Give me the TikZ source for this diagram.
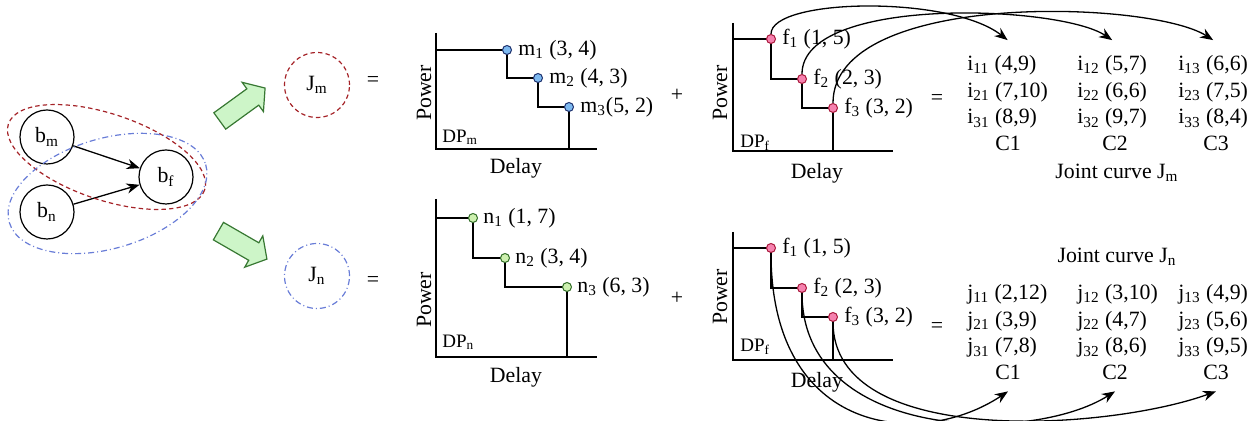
\documentclass[tikz,border=0pt]{standalone}
\usepackage{fontspec}
\setmainfont{Liberation Serif}
\usepackage{xcolor}
\usetikzlibrary{arrows.meta,positioning,shapes.arrows}
\definecolor{jmred}{RGB}{165,35,40}
\definecolor{jnblue}{RGB}{105,125,215}
\definecolor{fatfill}{RGB}{205,245,200}
\definecolor{fatline}{RGB}{55,120,50}
\definecolor{mfill}{RGB}{125,185,240}
\definecolor{mline}{RGB}{30,50,110}
\definecolor{nfill}{RGB}{205,240,175}
\definecolor{nline}{RGB}{50,110,40}
\definecolor{ffill}{RGB}{245,130,175}
\definecolor{fline}{RGB}{170,25,60}

\begin{document}
\begin{tikzpicture}[
  x=0.5pt, y=-0.5pt,
  font=\fontsize{10.9}{13}\selectfont,
  bnode/.style={draw, circle, minimum size=27pt, inner sep=0pt, line width=0.6pt},
  jnode/.style={circle, minimum size=32.5pt, inner sep=0pt, line width=0.6pt},
  redline/.style={draw=jmred, line width=0.6pt, dash pattern=on 2.2pt off 1.6pt},
  blueline/.style={draw=jnblue, line width=0.6pt,
                   dash pattern=on 3pt off 1.5pt on 0.5pt off 1.5pt},
  fat/.style={single arrow, draw=fatline, fill=fatfill, line width=0.6pt,
              minimum height=28pt, inner xsep=0pt, inner ysep=4.75pt,
              single arrow head extend=4pt, single arrow tip angle=100},
  ax/.style={line width=0.55pt},
  dot/.style={circle, minimum size=4.5pt, inner sep=0pt, line width=0.5pt},
  mdot/.style={dot, draw=mline, fill=mfill},
  ndot/.style={dot, draw=nline, fill=nfill},
  fdot/.style={dot, draw=fline, fill=ffill},
  ptlbl/.style={inner sep=0pt},
  dplbl/.style={font=\fontsize{9.5}{11}\selectfont, inner sep=0pt, anchor=west},
  col/.style={align=left, inner sep=0pt, anchor=west, font=\fontsize{10.9}{13.3}\selectfont},
  link/.style={-{Stealth[length=2.3mm, width=1.8mm]}, line width=0.65pt}
]
\useasboundingbox (0,0) rectangle (1260,421);

\node[bnode] (bm) at (47,137) {b\textsubscript{m}};
\node[bnode] (bn) at (47,212) {b\textsubscript{n}};
\node[bnode] (bf) at (166,177) {b\textsubscript{f}};
\draw[link] (bm) -- (bf);
\draw[link] (bn) -- (bf);
\draw[redline, rotate around={-18.6:(106.5,157)}] (106.5,157) ellipse [x radius=103.5, y radius=43];
\draw[blueline, rotate around={16.4:(107.5,193.5)}] (107.5,193.5) ellipse [x radius=102.4, y radius=55];

\node[fat, rotate=36] (upfat) at (239,107) {};
\node[fat, rotate=-30] (dnfat) at (239,243) {};

\node[jnode, redline] (jm) at (317,85) {J\textsubscript{m}};
\node[jnode, blueline] (jn) at (317,276) {J\textsubscript{n}};
\node (eqm) at (373,82) {=};
\node (eqn) at (373,282) {=};
\node (plm) at (677,95) {+};
\node (pln) at (677,298) {+};

\draw[ax] (436,33) |- (597,149);
\coordinate (m1) at (507,50);
\coordinate (m2) at (538,78);
\coordinate (m3) at (569,107);
\draw[ax] (436,50) -- (m1) |- (m2) |- (m3) -- (569,149);
\node[mdot] (m1d) at (m1) {};
\node[mdot] (m2d) at (m2) {};
\node[mdot] (m3d) at (m3) {};
\node[ptlbl, right=3pt of m1d] (m1l) {m\textsubscript{1} (3, 4)};
\node[ptlbl, right=3pt of m2d] (m2l) {m\textsubscript{2} (4, 3)};
\node[ptlbl, right=3pt of m3d] (m3l) {m\textsubscript{3}(5, 2)};
\node[rotate=90] (pwm) at (424,93) {Power};
\node[dplbl] (dpm) at (442,137) {DP\textsubscript{m}};
\node (dlm) at (516,168) {Delay};

\draw[ax] (436,199) |- (597,357);
\coordinate (n1) at (473,218);
\coordinate (n2) at (505,258);
\coordinate (n3) at (567,287);
\draw[ax] (436,218) -- (n1) |- (n2) |- (n3) -- (567,357);
\node[ndot] (n1d) at (n1) {};
\node[ndot] (n2d) at (n2) {};
\node[ndot] (n3d) at (n3) {};
\node[ptlbl, right=2.5pt of n1d] (n1l) {n\textsubscript{1} (1, 7)};
\node[ptlbl, right=2.5pt of n2d] (n2l) {n\textsubscript{2} (3, 4)};
\node[ptlbl, right=2.5pt of n3d] (n3l) {n\textsubscript{3} (6, 3)};
\node[rotate=90] (pwn) at (424,300) {Power};
\node[dplbl] (dpn) at (442,342) {DP\textsubscript{n}};
\node (dln) at (516,377) {Delay};

\draw[ax] (733,23) |- (893,151);
\coordinate (f1) at (771,39);
\coordinate (f2) at (802,79);
\coordinate (f3) at (833,108);
\draw[ax] (733,39) -- (f1) |- (f2) |- (f3) -- (833,151);
\node[fdot] (f1d) at (f1) {};
\node[fdot] (f2d) at (f2) {};
\node[fdot] (f3d) at (f3) {};
\node[ptlbl, right=3pt of f1d] (f1l) {f\textsubscript{1} (1, 5)};
\node[ptlbl, right=3pt of f2d] (f2l) {f\textsubscript{2} (2, 3)};
\node[ptlbl, right=3pt of f3d] (f3l) {f\textsubscript{3} (3, 2)};
\node[rotate=90] (pwf) at (720,93) {Power};
\node[dplbl] (dpf) at (740,143) {DP\textsubscript{f}};
\node (dlf) at (817,173) {Delay};

\draw[ax] (733,232) |- (893,360);
\coordinate (g1) at (771,248);
\coordinate (g2) at (802,288);
\coordinate (g3) at (833,317);
\draw[ax] (733,248) -- (g1) |- (g2) |- (g3) -- (833,360);
\node[fdot] (g1d) at (g1) {};
\node[fdot] (g2d) at (g2) {};
\node[fdot] (g3d) at (g3) {};
\node[ptlbl, right=3pt of g1d] (g1l) {f\textsubscript{1} (1, 5)};
\node[ptlbl, right=3pt of g2d] (g2l) {f\textsubscript{2} (2, 3)};
\node[ptlbl, right=3pt of g3d] (g3l) {f\textsubscript{3} (3, 2)};
\node[rotate=90] (pwg) at (720,297) {Power};
\node[dplbl] (dpg) at (740,347) {DP\textsubscript{f}};
\node (dlg) at (817,382) {Delay};

\node (eqf) at (937,100) {=};
\node[col] (ci1) at (967,92) {i\textsubscript{11} (4,9)\\ i\textsubscript{21} (7,10)\\ i\textsubscript{31} (8,9)};
\node[col] (ci2) at (1077,92) {i\textsubscript{12} (5,7)\\ i\textsubscript{22} (6,6)\\ i\textsubscript{32} (9,7)};
\node[col] (ci3) at (1178,92) {i\textsubscript{13} (6,6)\\ i\textsubscript{23} (7,5)\\ i\textsubscript{33} (8,4)};
\node (cm1) at (1008,143) {C1};
\node (cm2) at (1115,143) {C2};
\node (cm3) at (1216,143) {C3};
\node (jcm) at (1117,173) {Joint curve J\textsubscript{m}};

\node (eqg) at (937,328) {=};
\node (jcn) at (1117,257) {Joint curve J\textsubscript{n}};
\node[col] (cj1) at (967,321) {j\textsubscript{11} (2,12)\\ j\textsubscript{21} (3,9)\\ j\textsubscript{31} (7,8)};
\node[col] (cj2) at (1077,321) {j\textsubscript{12} (3,10)\\ j\textsubscript{22} (4,7)\\ j\textsubscript{32} (8,6)};
\node[col] (cj3) at (1178,321) {j\textsubscript{13} (4,9)\\ j\textsubscript{23} (5,6)\\ j\textsubscript{33} (9,5)};
\node (cn1) at (1008,372) {C1};
\node (cn2) at (1115,372) {C2};
\node (cn3) at (1216,372) {C3};

\draw[link] (f1d) .. controls (771,-2) and (950,-5) .. ([yshift=7.5pt]ci1.north);
\draw[link] (f2d) .. controls (802,-5) and (1060,5) .. ([yshift=7.5pt]ci2.north);
\draw[link] (f3d) .. controls (833,-10) and (1150,0) .. ([yshift=7.5pt]ci3.north);
\draw[link] (g1d) .. controls (771,435) and (920,450) .. ([yshift=-2.5pt]cn1.south);
\draw[link] (g2d) .. controls (802,440) and (1030,445) .. ([yshift=-2.5pt]cn2.south);
\draw[link] (g3d) .. controls (833,450) and (1110,430) .. ([yshift=-2.5pt]cn3.south);
\end{tikzpicture}
\end{document}
